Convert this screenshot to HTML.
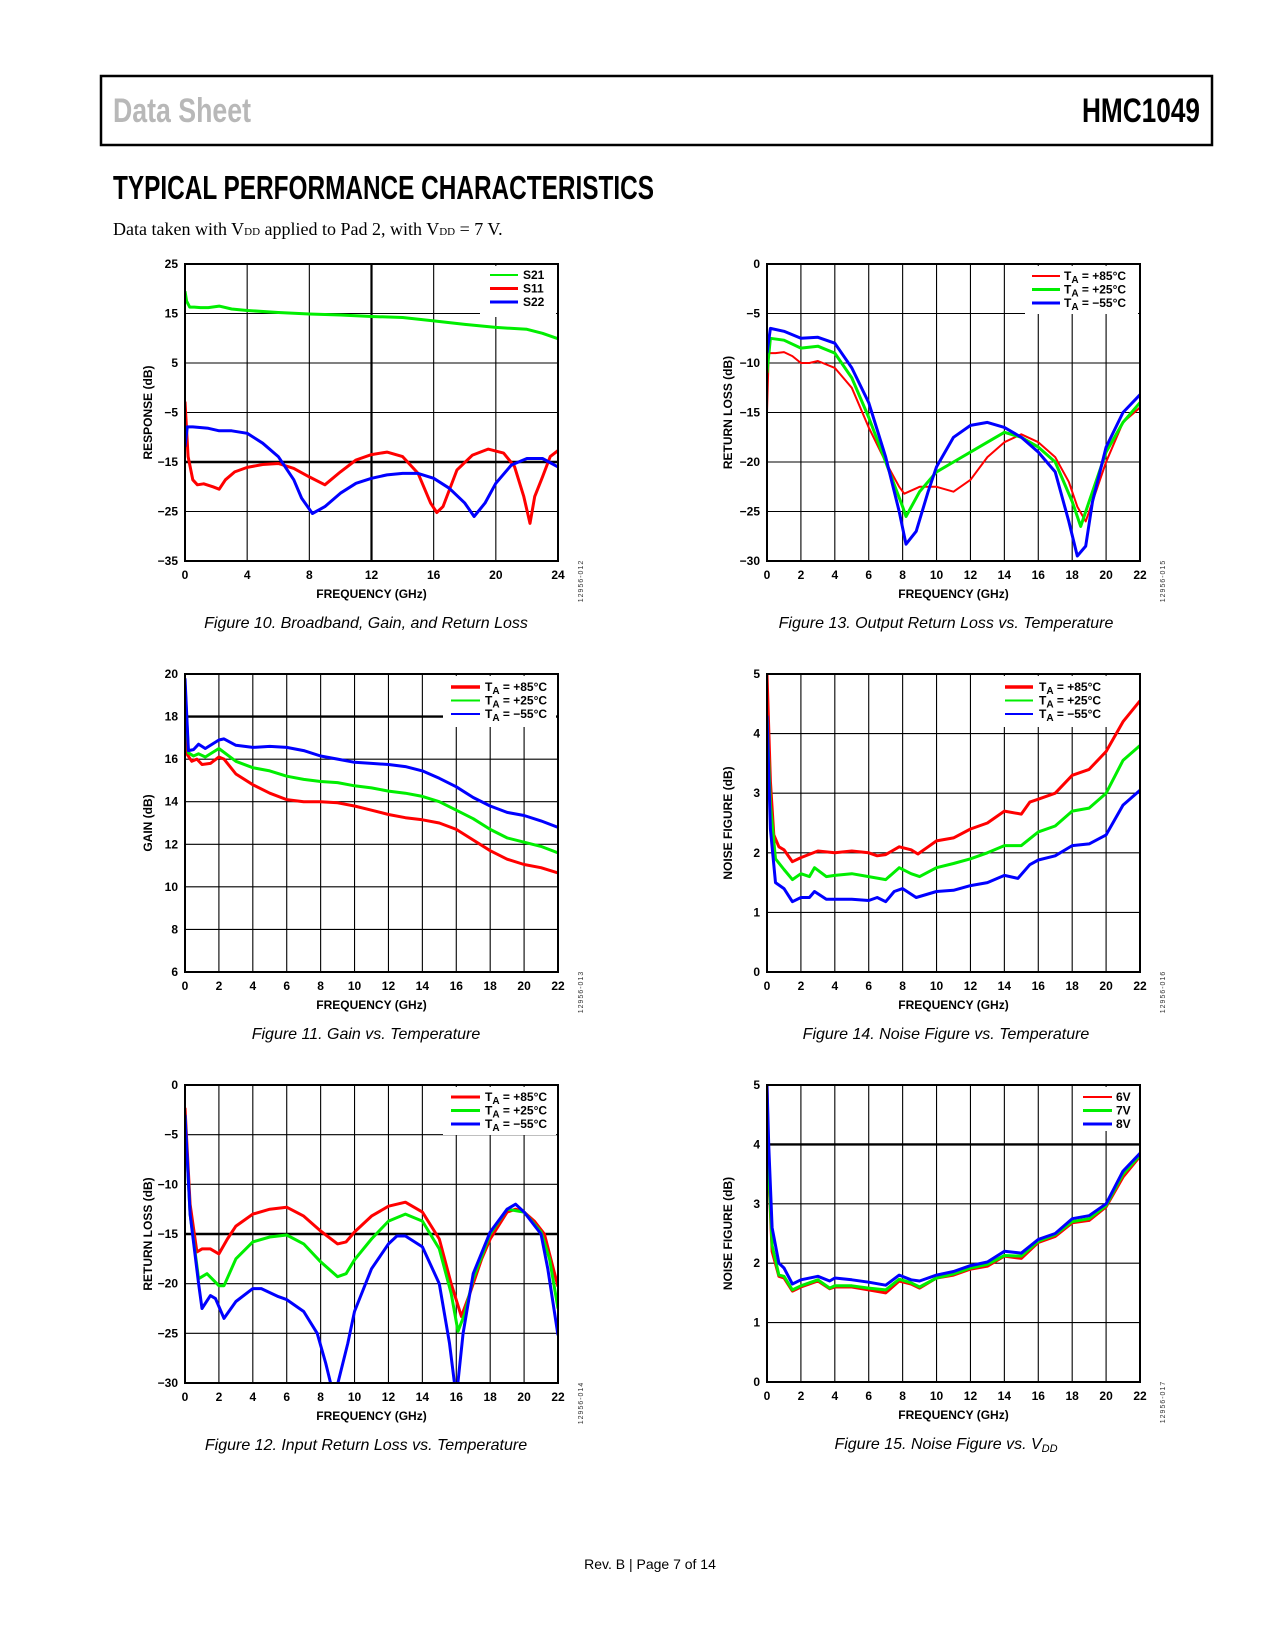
<!DOCTYPE html>
<html><head><meta charset="utf-8">
<style>
html,body{margin:0;padding:0;background:#fff;}
#page{position:relative;width:1275px;height:1650px;overflow:hidden;background:#fff;}
svg text{font-family:"Liberation Sans",sans-serif;}
</style></head>
<body>
<div id="page">
<svg id="sv" width="1275" height="1650" viewBox="0 0 1275 1650" xmlns="http://www.w3.org/2000/svg">
  <rect x="101" y="76" width="1111" height="69" fill="none" stroke="#000" stroke-width="2.5"/>
  <text x="113" y="122" font-size="34" font-weight="bold" fill="#b8b8b8" textLength="138" lengthAdjust="spacingAndGlyphs" style="font-family:'Liberation Sans Narrow','Liberation Sans',sans-serif">Data Sheet</text>
  <text x="1082" y="122" font-size="34" font-weight="bold" fill="#000" textLength="118" lengthAdjust="spacingAndGlyphs" style="font-family:'Liberation Sans Narrow','Liberation Sans',sans-serif">HMC1049</text>
  <text x="113" y="199" font-size="33" font-weight="bold" fill="#000" textLength="541" lengthAdjust="spacingAndGlyphs" style="font-family:'Liberation Sans Narrow','Liberation Sans',sans-serif">TYPICAL PERFORMANCE CHARACTERISTICS</text>
  <text x="113" y="235" font-size="18" fill="#000" style="font-family:'Liberation Serif',serif">Data taken with V<tspan font-size="11">DD</tspan> applied to Pad 2, with V<tspan font-size="11">DD</tspan> = 7 V.</text>
  <text x="650" y="1569" font-size="14" text-anchor="middle" fill="#000">Rev. B | Page 7 of 14</text>
</svg>
</div>
<script>
// ---- Figure 10 data ----
const f10S21X=[0,0.1,0.3,0.6,1,1.5,2.2,3,4,6,8,10,12,14,16,18,20,22,23,24];
const f10S21Y=[19.5,17.5,16.3,16.3,16.2,16.2,16.5,15.9,15.6,15.2,14.9,14.7,14.4,14.2,13.5,12.8,12.2,11.8,11.0,9.9];
const f10S11X=[0,0.2,0.5,0.8,1.2,1.8,2.2,2.6,3.2,4,5,6,7,8,9,10,11,12,13,14,15,15.8,16.2,16.6,17.5,18.5,19.5,20.5,21.2,21.8,22.2,22.5,23,23.5,24];
const f10S11Y=[-2.8,-13.9,-18.6,-19.6,-19.4,-20,-20.5,-18.6,-17,-16.1,-15.5,-15.3,-16.3,-18,-19.6,-17,-14.6,-13.5,-13,-13.9,-17.3,-23.3,-25.2,-24,-16.6,-13.6,-12.4,-13.2,-15.9,-22,-27.4,-22,-18,-13.9,-12.7];
const f10S22X=[0,0.15,0.5,1.5,2.2,3,4,5,6,7,7.5,8.2,9,10,11,12,13,14,15,16,17,18,18.6,19.3,20,21,22,23,24];
const f10S22Y=[-11.9,-7.9,-7.9,-8.2,-8.7,-8.7,-9.2,-11.2,-13.9,-18.6,-22.3,-25.4,-24,-21.3,-19.3,-18.3,-17.6,-17.3,-17.3,-18.3,-20.3,-23.3,-26,-23.3,-19.3,-15.6,-14.3,-14.3,-16];
const f10XTicks=[0,4,8,12,16,20,24];
const f10YTicks=[-35,-25,-15,-5,5,15,25];
const f10Legend=["S21","S11","S22"];
// ---- Figure 11 data ----
const f11X85=[0,0.15,0.4,0.7,1,1.5,2,2.3,3,4,5,6,7,8,9,10,11,12,13,14,15,16,17,18,19,20,21,22];
const f11Y85=[19,16.2,15.9,16.0,15.75,15.8,16.1,16.0,15.3,14.8,14.4,14.1,14.0,14.0,13.95,13.8,13.6,13.4,13.25,13.15,13.0,12.7,12.2,11.7,11.3,11.05,10.9,10.65];
const f11X25=[0,0.2,0.5,0.8,1.2,2,3,4,5,6,7,8,9,10,11,12,13,14,15,16,17,18,19,20,21,22];
const f11Y25=[19.5,16.3,16.15,16.25,16.1,16.5,15.9,15.6,15.45,15.2,15.05,14.95,14.9,14.75,14.65,14.5,14.4,14.25,14.0,13.6,13.2,12.7,12.3,12.1,11.9,11.6];
const f11Xm55=[0,0.2,0.5,0.8,1.2,2,2.3,3,4,5,6,7,8,9,10,11,12,13,14,15,16,17,18,19,20,21,22];
const f11Ym55=[19.8,16.4,16.45,16.7,16.5,16.9,16.95,16.65,16.55,16.6,16.55,16.4,16.15,16.0,15.85,15.8,15.75,15.65,15.45,15.1,14.7,14.2,13.8,13.5,13.35,13.1,12.8];
const f11XTicks=[0,2,4,6,8,10,12,14,16,18,20,22];
const f11YTicks=[6,8,10,12,14,16,18,20];
// ---- Figure 12 data ----
const f12X85=[0,0.3,0.7,1,1.5,2,2.5,3,4,5,6,7,8,9,9.5,10,11,12,13,14,15,15.7,16.3,16.8,17.5,18,19,19.5,20,20.6,21.2,21.5,22];
const f12Y85=[-2.3,-12,-16.8,-16.5,-16.5,-17,-15.5,-14.2,-13,-12.5,-12.3,-13.2,-14.7,-16,-15.8,-14.8,-13.2,-12.2,-11.8,-12.8,-15.5,-20,-23.3,-21,-17.5,-15.5,-12.8,-12.5,-12.8,-13.7,-15,-17,-20.3];
const f12X25=[0,0.3,0.8,1.3,2,2.3,3,4,5,6,7,8,9,9.5,10,11,12,13,14,15,15.7,16.1,16.5,17,18,19,20,21,21.5,22];
const f12Y25=[-3,-13,-19.5,-19,-20.2,-20.2,-17.5,-15.8,-15.3,-15.1,-16,-17.8,-19.3,-19,-17.6,-15.5,-13.7,-13,-13.7,-16.5,-21,-24.8,-23,-19.5,-15,-12.5,-12.8,-14.8,-17.5,-22.5];
const f12Xm55=[0,0.3,0.8,1,1.5,1.8,2.3,3,4,4.5,5.5,6,7,7.8,8.3,8.8,9.6,10,11,12,12.5,13,14,15,15.6,16.0,16.4,17,18,19,19.5,20,21,21.4,22];
const f12Ym55=[-3,-13,-20,-22.5,-21.2,-21.5,-23.5,-21.8,-20.5,-20.5,-21.3,-21.6,-22.8,-25,-28,-31.5,-26,-22.8,-18.5,-16,-15.2,-15.2,-16.3,-20,-26,-31.5,-25,-19,-14.8,-12.5,-12,-12.8,-15,-18.5,-25.2];
const f12XTicks=[0,2,4,6,8,10,12,14,16,18,20,22];
const f12YTicks=[-30,-25,-20,-15,-10,-5,0];
// ---- Figure 13 data ----
const f13X85=[0,0.1,0.5,1,1.5,2,2.5,3,4,5,6,7,7.8,8.1,9,10,11,12,13,14,15,16,17,17.8,18.3,18.8,19.2,20,21,22];
const f13Y85=[-15,-9,-9,-8.9,-9.3,-10,-10,-9.8,-10.5,-12.5,-16.5,-20,-22.5,-23.2,-22.5,-22.5,-23,-21.8,-19.5,-18,-17.2,-18,-19.5,-22,-24.5,-26,-24,-20,-16,-14.5];
const f13X25=[0,0.2,1,2,3,4,5,6,7,8,8.2,9,10,11,12,13,14,15,16,17,18,18.5,19,20,21,22];
const f13Y25=[-11,-7.5,-7.7,-8.5,-8.3,-9,-11.5,-15.5,-20,-24.5,-25.5,-23,-21,-20,-19,-18,-17,-17.5,-18.5,-20,-24,-26.5,-24,-19,-16,-14];
const f13Xm55=[0,0.2,1,2,3,4,5,6,7,7.8,8.2,8.8,9.5,10,11,12,13,14,15,16,17,17.8,18.3,18.8,19.2,20,21,22];
const f13Ym55=[-9,-6.5,-6.8,-7.5,-7.4,-8,-10.5,-14,-19.5,-25,-28.3,-27,-23,-20.5,-17.5,-16.3,-16,-16.5,-17.5,-19,-21,-26,-29.5,-28.5,-24,-18.5,-15,-13.2];
const f13XTicks=[0,2,4,6,8,10,12,14,16,18,20,22];
const f13YTicks=[-30,-25,-20,-15,-10,-5,0];
// ---- Figure 14 data ----
const f14X85=[0,0.2,0.4,0.7,1,1.5,2,3,4,5,6,6.5,7,7.8,8.5,8.9,9.5,10,11,12,13,14,15,15.5,16,17,18,19,20,21,22];
const f14Y85=[5,3.2,2.3,2.1,2.05,1.85,1.92,2.03,2.0,2.03,2.0,1.95,1.97,2.1,2.05,1.98,2.1,2.2,2.25,2.4,2.5,2.7,2.65,2.85,2.9,3.0,3.3,3.4,3.7,4.2,4.55];
const f14X25=[0,0.2,0.5,1,1.5,2,2.5,2.8,3.5,4,5,6,7,7.8,8.5,9,10,11,12,13,14,15,16,17,18,19,20,21,22];
const f14Y25=[4.3,2.8,1.9,1.72,1.55,1.65,1.6,1.75,1.6,1.62,1.65,1.6,1.55,1.75,1.65,1.6,1.75,1.82,1.9,2.0,2.12,2.12,2.35,2.45,2.7,2.75,3.0,3.55,3.8];
const f14Xm55=[0,0.2,0.5,1,1.5,2,2.5,2.8,3.5,4,5,6,6.5,7,7.5,8,8.8,10,11,12,13,14,14.8,15.5,16,17,18,19,20,21,22];
const f14Ym55=[4.3,2.4,1.5,1.4,1.18,1.25,1.25,1.35,1.22,1.22,1.22,1.2,1.25,1.18,1.35,1.4,1.25,1.35,1.37,1.45,1.5,1.62,1.57,1.8,1.88,1.95,2.12,2.15,2.3,2.8,3.05];
const f14XTicks=[0,2,4,6,8,10,12,14,16,18,20,22];
const f14YTicks=[0,1,2,3,4,5];
// ---- Figure 15 data ----
const f15X=[0,0.1,0.3,0.7,1,1.5,2,3,3.7,4,5,6,7,7.8,8.5,9,10,11,12,13,14,15,16,17,18,19,20,21,22];
const f15Y6V=[5,3.5,2.2,1.78,1.75,1.53,1.6,1.7,1.57,1.6,1.6,1.55,1.5,1.7,1.65,1.58,1.75,1.8,1.9,1.95,2.12,2.08,2.35,2.45,2.68,2.72,2.95,3.45,3.8];
const f15Y7V=[4.8,3.6,2.3,1.8,1.78,1.55,1.62,1.72,1.58,1.62,1.62,1.58,1.55,1.73,1.67,1.6,1.75,1.82,1.92,1.98,2.13,2.12,2.37,2.48,2.7,2.75,2.97,3.5,3.82];
const f15Y8V=[5,4,2.6,2.0,1.92,1.65,1.72,1.78,1.7,1.75,1.72,1.68,1.63,1.8,1.72,1.7,1.8,1.86,1.96,2.02,2.2,2.17,2.4,2.5,2.75,2.8,3.0,3.55,3.85];
const f15XTicks=[0,2,4,6,8,10,12,14,16,18,20,22];
const f15YTicks=[0,1,2,3,4,5];
const tempLegend=["T|A| = +85°C","T|A| = +25°C","T|A| = −55°C"];
const vddLegend=["6V","7V","8V"];

const NS="http://www.w3.org/2000/svg";
const sv=document.getElementById('sv');
const RED="#ff0000",GRN="#00ee00",BLU="#0000ff";
function mk(tag,attrs,parent){const e=document.createElementNS(NS,tag);for(const k in attrs)e.setAttribute(k,attrs[k]);(parent||sv).appendChild(e);return e;}
function fmt(v){return v<0?"−"+Math.abs(v):String(v);}

function chart(c){
  const g=mk('g',{});
  
  
  const xs=v=>c.L+(v-c.xmin)/(c.xmax-c.xmin)*(c.R-c.L);
  const ys=v=>c.B-(v-c.ymin)/(c.ymax-c.ymin)*(c.B-c.T);
  const cid='clip-'+c.name;
  const defs=mk('defs',{},g);
  const cp=mk('clipPath',{id:cid},defs);
  mk('rect',{x:c.L,y:c.T,width:c.R-c.L,height:c.B-c.T},cp);
  c.xt.forEach(v=>{
    const l=mk('line',{x1:xs(v),x2:xs(v),y1:c.T,y2:c.B,stroke:'#000','stroke-width':(c.thickX===v?2.2:1.1)},g);
    
    
    const t=mk('text',{x:xs(v),y:c.B+18,'text-anchor':'middle','font-size':12,'font-weight':'bold'},g);
    t.textContent=String(v);
    
    
  });
  c.yt.forEach(v=>{
    const l=mk('line',{x1:c.L,x2:c.R,y1:ys(v),y2:ys(v),stroke:'#000','stroke-width':(c.thickY===v?2.4:1.1)},g);
    
    
    const t=mk('text',{x:c.L-7,y:ys(v)+4,'text-anchor':'end','font-size':12,'font-weight':'bold'},g);
    t.textContent=fmt(v);
    
    
  });
  const lb=mk('rect',{x:c.lg.x,y:c.T+2,width:c.R-c.lg.x-2,height:c.lg.bottom-c.T-2,fill:'#fff'},g);
  
  
  c.series.forEach((s,i)=>{
    const d=s.x.map((v,j)=>(j?'L':'M')+xs(v).toFixed(1)+','+ys(s.y[j]).toFixed(1)).join(' ');
    const p=mk('path',{d:d,fill:'none',stroke:s.color,'stroke-width':s.w||3,'stroke-linejoin':'round','clip-path':'url(#'+cid+')'},g);
    
    
    const ly=c.lg.y0+i*13.5;
    const ll=mk('line',{x1:c.lg.lx1,x2:c.lg.lx2,y1:ly,y2:ly,stroke:s.color,'stroke-width':s.lw||3},g);
    
    
    const lt=mk('text',{x:c.lg.tx,y:ly+4,'font-size':12,'font-weight':'bold'},g);
    const parts=c.labels[i].split('|');
    lt.appendChild(document.createTextNode(parts[0]));
    if(parts.length>1){const sb=mk('tspan',{'font-size':10,dy:3},lt);sb.textContent=parts[1];const r=mk('tspan',{dy:-3},lt);r.textContent=parts[2];}
    
    
  });
  const bd=mk('rect',{x:c.L,y:c.T,width:c.R-c.L,height:c.B-c.T,fill:'none',stroke:'#000','stroke-width':2},g);
  
  
  const xt=mk('text',{x:(c.L+c.R)/2,y:c.B+37,'text-anchor':'middle','font-size':12,'font-weight':'bold'},g);
  xt.textContent='FREQUENCY (GHz)';
  
  
  const yt=mk('text',{x:0,y:0,'text-anchor':'middle','font-size':12,'font-weight':'bold',transform:'translate('+(c.ytx)+','+((c.T+c.B)/2)+') rotate(-90)'},g);
  yt.textContent=c.ytitle;
  
  
  const id=mk('text',{x:0,y:0,'text-anchor':'middle','font-size':7,'letter-spacing':1,fill:'#333',transform:'translate('+(c.R+25)+','+(c.B+20)+') rotate(-90)'},g);
  id.textContent=c.code;
  
  
  const cap=mk('text',{x:c.capX,y:c.B+67,'text-anchor':'middle','font-size':16,'font-style':'italic',style:"font-family:'Liberation Sans Narrow','Liberation Sans',sans-serif"},g);
  const cparts=c.caption.split('|');
  cap.appendChild(document.createTextNode(cparts[0]));
  if(cparts.length>1){const sb=mk('tspan',{'font-size':11,dy:3},cap);sb.textContent=cparts[1];}
  
  
}
chart({name:'figure-10-chart',L:185,R:558,T:264,B:561,xmin:0,xmax:24,ymin:-35,ymax:25,xt:f10XTicks,yt:f10YTicks,thickX:12,thickY:-15,
  ytitle:'RESPONSE (dB)',ytx:152,code:'12956-012',capX:366,caption:'Figure 10. Broadband, Gain, and Return Loss',
  lg:{x:480,lx1:490,lx2:518,tx:523,y0:275,bottom:317},labels:f10Legend,
  series:[{id:'s21',x:f10S21X,y:f10S21Y,color:GRN,w:3,lw:2},{id:'s11',x:f10S11X,y:f10S11Y,color:RED,w:3},{id:'s22',x:f10S22X,y:f10S22Y,color:BLU,w:3}]});
chart({name:'figure-13-chart',L:767,R:1140,T:264,B:561,xmin:0,xmax:22,ymin:-30,ymax:0,xt:f13XTicks,yt:f13YTicks,
  ytitle:'RETURN LOSS (dB)',ytx:732,code:'12956-015',capX:946,caption:'Figure 13. Output Return Loss vs. Temperature',
  lg:{x:1025,lx1:1032,lx2:1060,tx:1064,y0:276,bottom:314},labels:tempLegend,
  series:[{id:'85c',x:f13X85,y:f13Y85,color:RED,w:2,lw:2},{id:'25c',x:f13X25,y:f13Y25,color:GRN,w:3},{id:'m55c',x:f13Xm55,y:f13Ym55,color:BLU,w:3}]});
chart({name:'figure-11-chart',L:185,R:558,T:674,B:972,xmin:0,xmax:22,ymin:6,ymax:20,xt:f11XTicks,yt:f11YTicks,thickY:18,
  ytitle:'GAIN (dB)',ytx:152,code:'12956-013',capX:366,caption:'Figure 11. Gain vs. Temperature',
  lg:{x:443,lx1:451,lx2:480,tx:485,y0:687,bottom:727},labels:tempLegend,
  series:[{id:'85c',x:f11X85,y:f11Y85,color:RED,w:3,lw:3.5},{id:'25c',x:f11X25,y:f11Y25,color:GRN,w:3,lw:2},{id:'m55c',x:f11Xm55,y:f11Ym55,color:BLU,w:3,lw:2}]});
chart({name:'figure-14-chart',L:767,R:1140,T:674,B:972,xmin:0,xmax:22,ymin:0,ymax:5,xt:f14XTicks,yt:f14YTicks,
  ytitle:'NOISE FIGURE (dB)',ytx:732,code:'12956-016',capX:946,caption:'Figure 14. Noise Figure vs. Temperature',
  lg:{x:1002,lx1:1005,lx2:1033,tx:1039,y0:687,bottom:727},labels:tempLegend,
  series:[{id:'85c',x:f14X85,y:f14Y85,color:RED,w:3,lw:3.5},{id:'25c',x:f14X25,y:f14Y25,color:GRN,w:3,lw:2},{id:'m55c',x:f14Xm55,y:f14Ym55,color:BLU,w:3,lw:2}]});
chart({name:'figure-12-chart',L:185,R:558,T:1085,B:1383,xmin:0,xmax:22,ymin:-30,ymax:0,xt:f12XTicks,yt:f12YTicks,thickY:-15,
  ytitle:'RETURN LOSS (dB)',ytx:152,code:'12956-014',capX:366,caption:'Figure 12. Input Return Loss vs. Temperature',
  lg:{x:443,lx1:451,lx2:480,tx:485,y0:1097,bottom:1135},labels:tempLegend,
  series:[{id:'85c',x:f12X85,y:f12Y85,color:RED,w:3},{id:'25c',x:f12X25,y:f12Y25,color:GRN,w:3},{id:'m55c',x:f12Xm55,y:f12Ym55,color:BLU,w:3}]});
chart({name:'figure-15-chart',L:767,R:1140,T:1085,B:1382,xmin:0,xmax:22,ymin:0,ymax:5,xt:f15XTicks,yt:f15YTicks,thickY:4,
  ytitle:'NOISE FIGURE (dB)',ytx:732,code:'12956-017',capX:946,caption:'Figure 15. Noise Figure vs. V|DD',
  lg:{x:1078,lx1:1083,lx2:1112,tx:1116,y0:1097,bottom:1131},labels:vddLegend,
  series:[{id:'6v',x:f15X,y:f15Y6V,color:RED,w:3,lw:2},{id:'7v',x:f15X,y:f15Y7V,color:GRN,w:3},{id:'8v',x:f15X,y:f15Y8V,color:BLU,w:3}]});
</script>
</body></html>
